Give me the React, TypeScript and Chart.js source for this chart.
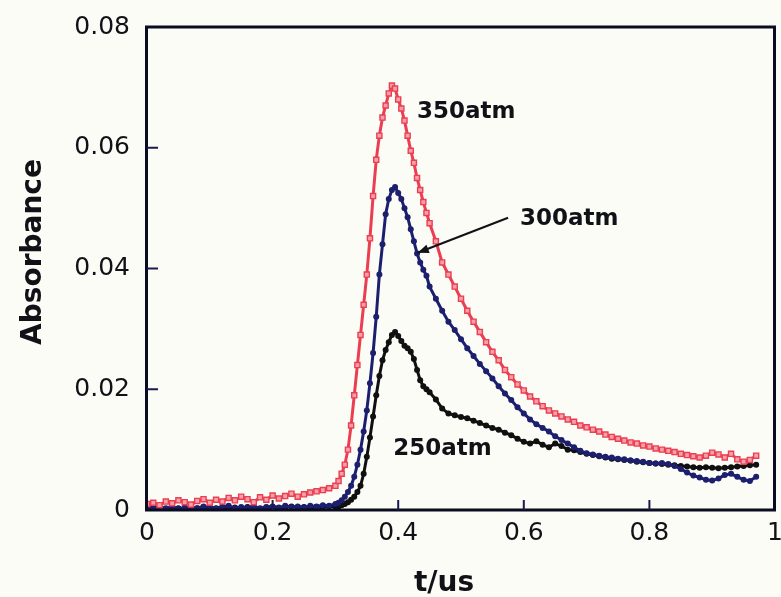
import React, { useEffect, useRef } from "react";
import { Chart, registerables } from "chart.js";

Chart.register(...registerables);

const TIME_US = [
  0, 0.01, 0.02, 0.03, 0.04, 0.05, 0.06, 0.07, 0.08, 0.09, 0.1, 0.11, 0.12, 0.13, 0.14, 0.15, 0.16, 0.17, 0.18, 0.19,
  0.2, 0.21, 0.22, 0.23, 0.24, 0.25, 0.26, 0.27, 0.28, 0.29, 0.3,
  0.305, 0.31, 0.315, 0.32, 0.325, 0.33, 0.335, 0.34, 0.345, 0.35, 0.355, 0.36, 0.365, 0.37, 0.375, 0.38, 0.385, 0.39,
  0.395, 0.4, 0.405, 0.41, 0.415, 0.42, 0.425, 0.43, 0.435, 0.44, 0.445, 0.45,
  0.46, 0.47, 0.48, 0.49, 0.5, 0.51, 0.52, 0.53, 0.54, 0.55, 0.56, 0.57, 0.58, 0.59, 0.6, 0.61, 0.62, 0.63, 0.64, 0.65,
  0.66, 0.67, 0.68, 0.69, 0.7, 0.71, 0.72, 0.73, 0.74, 0.75, 0.76, 0.77, 0.78, 0.79, 0.8, 0.81, 0.82, 0.83, 0.84, 0.85,
  0.86, 0.87, 0.88, 0.89, 0.9, 0.91, 0.92, 0.93, 0.94, 0.95, 0.96, 0.97,
];

const ABS_350 = [
  0.001, 0.0012, 0.0008, 0.0014, 0.0011, 0.0016, 0.0013, 0.0009, 0.0015, 0.0018, 0.0012, 0.0017, 0.0014, 0.002, 0.0016,
  0.0022, 0.0018, 0.0013, 0.0021, 0.0017, 0.0024, 0.0019, 0.0023, 0.0027, 0.0022, 0.0026, 0.0029, 0.0031, 0.0033, 0.0036, 0.004,
  0.0048, 0.006, 0.0075, 0.01, 0.014, 0.019, 0.024, 0.029, 0.034, 0.039, 0.045, 0.052, 0.058, 0.062, 0.065, 0.067, 0.069,
  0.0703, 0.0698, 0.068, 0.0665, 0.0645, 0.062, 0.0595, 0.0575, 0.055, 0.053, 0.051, 0.0492, 0.0475,
  0.0445, 0.041, 0.039, 0.037, 0.035, 0.033, 0.0312, 0.0295, 0.0278, 0.0262, 0.0248, 0.0232, 0.022, 0.0208, 0.0198,
  0.0188, 0.018, 0.0172, 0.0165, 0.016, 0.0155, 0.015, 0.0146, 0.014, 0.0137, 0.0133, 0.013, 0.0125, 0.0121, 0.0118,
  0.0115, 0.0112, 0.011, 0.0107, 0.0105, 0.0102, 0.01, 0.0098, 0.0096, 0.0093, 0.0091, 0.0089, 0.0087, 0.009, 0.0095,
  0.0092, 0.0087, 0.0093, 0.0084, 0.008, 0.0083, 0.009,
];

const ABS_300 = [
  0.0004, 0.0002, 0.0005, 0.0003, 0.0006, 0.0002, 0.0004, 0.0005, 0.0003, 0.0006, 0.0004, 0.0002, 0.0005, 0.0007, 0.0003,
  0.0005, 0.0004, 0.0006, 0.0003, 0.0005, 0.0006, 0.0004, 0.0007, 0.0005, 0.0006, 0.0004, 0.0007, 0.0006, 0.0008, 0.0007, 0.001,
  0.0012, 0.0016, 0.0022, 0.003, 0.004, 0.0055, 0.0075, 0.01, 0.013, 0.0165, 0.021, 0.026, 0.032, 0.039, 0.044, 0.049,
  0.0515, 0.053, 0.0535, 0.0525, 0.0515, 0.05, 0.0485, 0.0465, 0.0445, 0.0425, 0.041, 0.0398, 0.0388, 0.037,
  0.035, 0.033, 0.0312, 0.0298, 0.0283, 0.0268, 0.0255, 0.0242, 0.023, 0.0218, 0.0205, 0.0193, 0.0182, 0.017, 0.016,
  0.015, 0.0142, 0.0136, 0.013, 0.0122, 0.0116, 0.011, 0.0104, 0.0098, 0.0094, 0.0092, 0.009, 0.0088, 0.0087, 0.0085,
  0.0084, 0.0082, 0.0081, 0.008, 0.0078, 0.0077, 0.0078, 0.0076, 0.0073, 0.0068, 0.0062, 0.0057, 0.0054, 0.005, 0.0049,
  0.0052, 0.0058, 0.006, 0.0055, 0.005, 0.0048, 0.0055,
];

const ABS_250 = [
  0.0002, 0.0004, 0.0003, 0.0001, 0.0004, 0.0003, 0.0002, 0.0005, 0.0003, 0.0002, 0.0004, 0.0003, 0.0005, 0.0002, 0.0004,
  0.0003, 0.0005, 0.0004, 0.0002, 0.0004, 0.0005, 0.0003, 0.0004, 0.0006, 0.0004, 0.0005, 0.0003, 0.0005, 0.0004, 0.0006, 0.0005,
  0.0006, 0.0008, 0.001, 0.0013, 0.0017, 0.0022, 0.003, 0.004, 0.006, 0.0088, 0.012, 0.0155, 0.019, 0.0222, 0.0248, 0.0265,
  0.0278, 0.029, 0.0295, 0.0288, 0.028, 0.0272, 0.0268, 0.0262, 0.025, 0.0232, 0.0215, 0.0205, 0.02, 0.0195,
  0.0183, 0.0168, 0.016, 0.0157, 0.0154, 0.0152, 0.0148, 0.0144, 0.014, 0.0136, 0.0133, 0.0128, 0.0124, 0.0118, 0.0113,
  0.011, 0.0114, 0.0108, 0.0104, 0.011, 0.0106, 0.01, 0.0099, 0.0096, 0.0093, 0.0091, 0.0089, 0.0087, 0.0085, 0.0084,
  0.0083, 0.0082, 0.008, 0.0079, 0.0078, 0.0077, 0.0076, 0.0075, 0.0074, 0.0073, 0.0072, 0.0071, 0.007, 0.0071, 0.007,
  0.0069, 0.007, 0.0071, 0.0072, 0.0073, 0.0074, 0.0075,
];

const X_TICKS = [0, 0.2, 0.4, 0.6, 0.8, 1];
const X_TICK_LABELS = ["0", "0.2", "0.4", "0.6", "0.8", "1"];
const Y_TICKS = [0, 0.02, 0.04, 0.06, 0.08];
const Y_TICK_LABELS = ["0", "0.02", "0.04", "0.06", "0.08"];

const SERIES_LABELS = ["350atm", "300atm", "250atm"];
// annotation anchors in data units: [x, y]
const LABEL_350_AT = [0.43, 0.0649];
const LABEL_300_AT = [0.594, 0.0472];
const LABEL_250_AT = [0.392, 0.0091];
const ARROW_FROM = [0.575, 0.0484];
const ARROW_TO = [0.431, 0.0426];

const X_TITLE = "t/us";
const Y_TITLE = "Absorbance";

const BG = "#fcfcf6";
const INK = "#111118";
const FONT = '"DejaVu Sans", "Liberation Sans", Arial, sans-serif';

const toPoints = (vals: number[]) => vals.map((v, i) => ({ x: TIME_US[i], y: v }));

const decorPlugin = {
  id: "decor",
  beforeDraw(chart: any) {
    const ctx = chart.ctx;
    ctx.save();
    ctx.fillStyle = BG;
    ctx.fillRect(0, 0, chart.width, chart.height);
    ctx.restore();
  },
  afterDatasetsDraw(chart: any) {
    const ctx = chart.ctx;
    const xs = chart.scales.x;
    const ys = chart.scales.y;
    const a = chart.chartArea;
    ctx.save();
    // frame
    ctx.strokeStyle = "#0b0b22";
    ctx.lineWidth = 3;
    ctx.strokeRect(a.left - 0.5, a.top, a.right - a.left, a.bottom - a.top);
    // inward ticks
    ctx.lineWidth = 2;
    ctx.strokeStyle = "#1a1a50";
    X_TICKS.slice(1, -1).forEach((v) => {
      const px = xs.getPixelForValue(v);
      ctx.beginPath();
      ctx.moveTo(px, a.bottom);
      ctx.lineTo(px, a.bottom - 10);
      ctx.stroke();
    });
    Y_TICKS.slice(1, -1).forEach((v) => {
      const py = ys.getPixelForValue(v);
      ctx.beginPath();
      ctx.moveTo(a.left, py);
      ctx.lineTo(a.left + 11, py);
      ctx.stroke();
    });
    // annotations
    ctx.fillStyle = INK;
    ctx.font = `bold 23px ${FONT}`;
    ctx.textAlign = "left";
    ctx.textBaseline = "alphabetic";
    const put = (t: string, p: number[]) =>
      ctx.fillText(t, xs.getPixelForValue(p[0]), ys.getPixelForValue(p[1]));
    put(SERIES_LABELS[0], LABEL_350_AT);
    put(SERIES_LABELS[1], LABEL_300_AT);
    put(SERIES_LABELS[2], LABEL_250_AT);
    // arrow
    const x1 = xs.getPixelForValue(ARROW_FROM[0]);
    const y1 = ys.getPixelForValue(ARROW_FROM[1]);
    const x2 = xs.getPixelForValue(ARROW_TO[0]);
    const y2 = ys.getPixelForValue(ARROW_TO[1]);
    ctx.strokeStyle = INK;
    ctx.lineWidth = 2;
    ctx.beginPath();
    ctx.moveTo(x1, y1);
    ctx.lineTo(x2, y2);
    ctx.stroke();
    const ang = Math.atan2(y2 - y1, x2 - x1);
    const hl = 12;
    ctx.beginPath();
    ctx.moveTo(x2, y2);
    ctx.lineTo(x2 - hl * Math.cos(ang - 0.38), y2 - hl * Math.sin(ang - 0.38));
    ctx.lineTo(x2 - hl * Math.cos(ang + 0.38), y2 - hl * Math.sin(ang + 0.38));
    ctx.closePath();
    ctx.fill();
    // axis titles
    ctx.font = `bold 28px ${FONT}`;
    ctx.textAlign = "center";
    ctx.fillText(X_TITLE, 444, 591);
    ctx.translate(41, 252);
    ctx.rotate(-Math.PI / 2);
    ctx.fillText(Y_TITLE, 0, 0);
    ctx.restore();
  },
};

export default function App() {
  const ref = useRef<HTMLCanvasElement | null>(null);
  useEffect(() => {
    document.body.style.margin = "0";
    document.body.style.background = BG;
    const canvas = ref.current;
    if (!canvas) return;
    const chart = new Chart(canvas, {
      type: "scatter",
      data: {
        datasets: [
          {
            label: SERIES_LABELS[0],
            data: toPoints(ABS_350),
            showLine: true,
            borderColor: "#ea3f52",
            borderWidth: 3,
            backgroundColor: "#f58c98",
            pointStyle: "rect",
            pointRadius: 3.6,
            pointBorderWidth: 1.4,
            pointBorderColor: "#ea3f52",
            pointBackgroundColor: "#f7a0a9",
          },
          {
            label: SERIES_LABELS[1],
            data: toPoints(ABS_300),
            showLine: true,
            borderColor: "#1c1f6e",
            borderWidth: 3,
            backgroundColor: "#1c1f6e",
            pointRadius: 3,
            pointBorderWidth: 0,
            pointBackgroundColor: "#1c1f6e",
          },
          {
            label: SERIES_LABELS[2],
            data: toPoints(ABS_250),
            showLine: true,
            borderColor: "#101010",
            borderWidth: 3,
            backgroundColor: "#101010",
            pointRadius: 3,
            pointBorderWidth: 0,
            pointBackgroundColor: "#101010",
          },
        ],
      },
      options: {
        animation: false,
        responsive: false,
        devicePixelRatio: 1,
        layout: { padding: { top: 27, right: 6, left: 0, bottom: 0 } },
        plugins: { legend: { display: false }, tooltip: { enabled: false } },
        scales: {
          x: {
            type: "linear",
            min: 0,
            max: 1,
            afterBuildTicks: (s: any) => {
              s.ticks = X_TICKS.map((v) => ({ value: v }));
            },
            afterFit: (s: any) => {
              s.height = 87;
              s.paddingLeft = 0;
              s.paddingRight = 0;
            },
            grid: { display: false, drawTicks: false },
            border: { display: false },
            ticks: {
              padding: 8,
              color: INK,
              font: { family: FONT, size: 25 },
              maxRotation: 0,
              autoSkip: false,
              callback: (v: any) => {
                const i = X_TICKS.indexOf(Number(v));
                return i >= 0 ? X_TICK_LABELS[i] : "";
              },
            },
          },
          y: {
            type: "linear",
            min: 0,
            max: 0.08,
            afterBuildTicks: (s: any) => {
              s.ticks = Y_TICKS.map((v) => ({ value: v }));
            },
            afterFit: (s: any) => {
              s.width = 147;
              s.paddingTop = 0;
              s.paddingBottom = 0;
            },
            grid: { display: false, drawTicks: false },
            border: { display: false },
            ticks: {
              padding: 17,
              color: INK,
              font: { family: FONT, size: 25 },
              autoSkip: false,
              callback: (v: any) => {
                const i = Y_TICKS.findIndex((t) => Math.abs(t - Number(v)) < 1e-9);
                return i >= 0 ? Y_TICK_LABELS[i] : "";
              },
            },
          },
        },
      },
      plugins: [decorPlugin],
    } as any);
    return () => chart.destroy();
  }, []);
  return (
    <div style={{ width: 781, height: 597, position: "relative" }}>
      <canvas ref={ref} width={781} height={597} style={{ display: "block", width: 781, height: 597 }} />
    </div>
  );
}
